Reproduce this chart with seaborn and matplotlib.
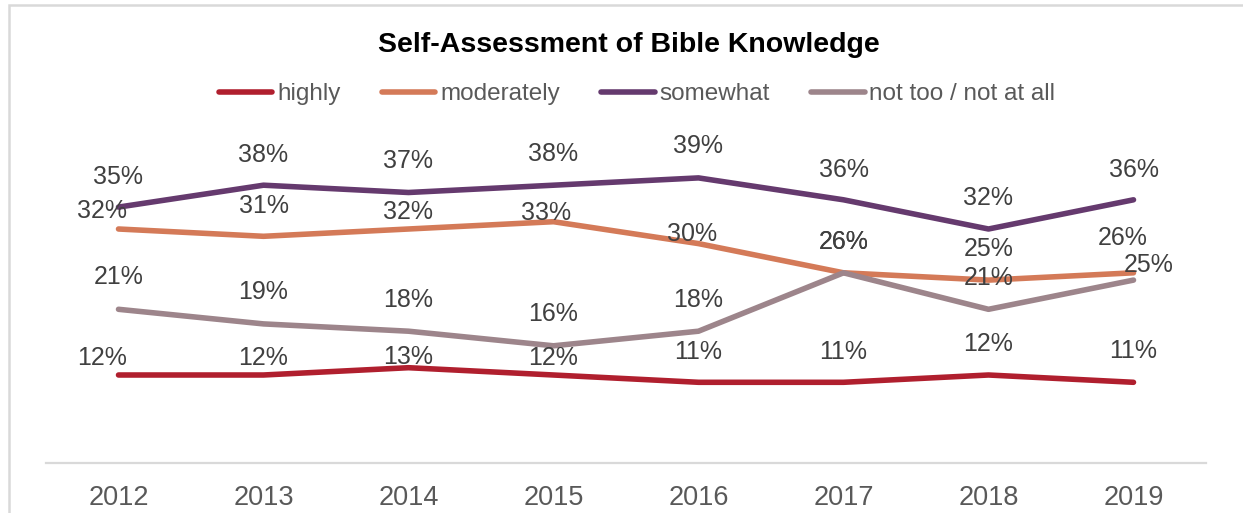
import matplotlib
matplotlib.use("Agg")
import matplotlib.pyplot as plt
import seaborn as sns
import pandas as pd
from matplotlib.patches import Rectangle
from matplotlib.lines import Line2D

# Survey results (percent of respondents)
years = [2012, 2013, 2014, 2015, 2016, 2017, 2018, 2019]
series_names = ["highly", "moderately", "somewhat", "not too / not at all"]
highly = [12, 12, 13, 12, 11, 11, 12, 11]
moderately = [32, 31, 32, 33, 30, 26, 25, 26]
somewhat = [35, 38, 37, 38, 39, 36, 32, 36]
not_too = [21, 19, 18, 16, 18, 26, 21, 25]

colors = ["#B01F2E", "#D47A58", "#653A6E", "#9D858B"]

# Label nudges in pixels (dx, dy above the point)
label_nudge = {
    "highly": [(-16, 17), (0, 17), (0, 11), (0, 17), (0, 30), (0, 30), (0, 31), (0, 31)],
    "moderately": [(-16, 18), (0, 30), (0, 17), (-7, 9), (-6, 10), (0, 31), (0, 31), (-11, 35)],
    "somewhat": [(0, 30), (0, 30), (0, 32), (0, 31), (0, 32), (0, 30), (0, 31), (0, 30)],
    "not too / not at all": [(0, 32), (0, 32), (0, 31), (0, 32), (0, 31), (0, 31), (0, 31), (15, 15)],
}

df = pd.DataFrame({
    "year": years * 4,
    "value": highly + moderately + somewhat + not_too,
    "series": sum([[n] * len(years) for n in series_names], []),
})

sns.set_theme(style="white")
plt.rcParams["font.family"] = ["Liberation Sans", "DejaVu Sans"]

DPI = 100
fig = plt.figure(figsize=(12.43, 5.13), dpi=DPI)
W, H = 1243, 513
ax = fig.add_axes([46 / W, (H - 462.6) / H, 1160 / W, 328.5 / H])

sns.lineplot(data=df, x="year", y="value", hue="series", hue_order=series_names,
             palette=colors, linewidth=4.0, ax=ax, legend=False,
             solid_capstyle="round", solid_joinstyle="round")

ax.set_xlim(2011.5, 2019.5)
ax.set_ylim(0, 45)
ax.set_xticks(years)
ax.set_xticklabels([str(y) for y in years], fontsize=19.5, color="#595959")
ax.tick_params(axis="x", length=0, pad=16)
ax.set_yticks([])
ax.set_xlabel("")
ax.set_ylabel("")
for side in ["top", "right", "left"]:
    ax.spines[side].set_visible(False)
ax.spines["bottom"].set_color("#D9D9D9")
ax.spines["bottom"].set_linewidth(1.6)

px2pt = 72 / DPI
for name, vals in zip(series_names, [highly, moderately, somewhat, not_too]):
    for x, v, (dx, dy) in zip(years, vals, label_nudge[name]):
        ax.annotate(f"{v}%", (x, v), xytext=(dx * px2pt, dy * px2pt),
                    textcoords="offset points", ha="center", va="center",
                    fontsize=18, color="#404040")

fig.text(629 / W, 1 - 45 / H, "Self-Assessment of Bible Knowledge",
         ha="center", va="center", fontsize=20.5, fontweight="bold", color="black")

handles = [Line2D([0], [0], color=c, lw=4.0, solid_capstyle="round") for c in colors]
fig.legend(handles, series_names, loc="center", bbox_to_anchor=(637 / W, 1 - 94 / H),
           ncol=4, frameon=False, fontsize=17.5, handlelength=2.2, handletextpad=0.2,
           columnspacing=1.7, labelcolor="#595959")

fig.patches.append(Rectangle((9 / W, -0.05), 1.2, (H - 5) / H + 0.05,
                             transform=fig.transFigure, fill=False,
                             edgecolor="#D9D9D9", linewidth=1.8))

fig.savefig("out.png", dpi=DPI, facecolor="white")
